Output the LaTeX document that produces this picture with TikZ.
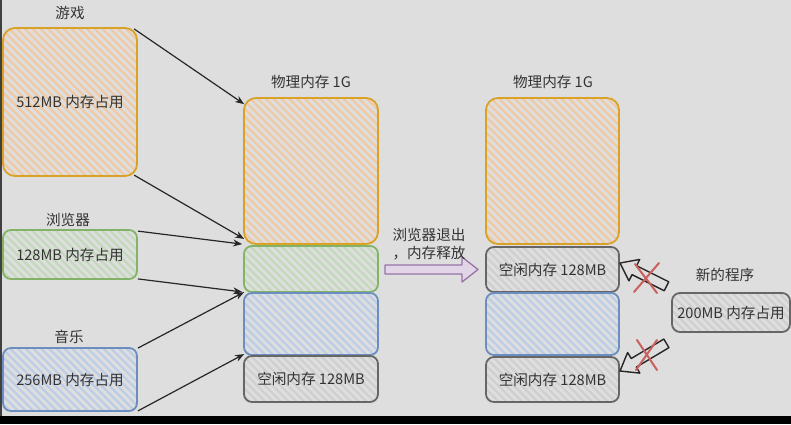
\documentclass[tikz,border=0pt]{standalone}
\usepackage{fontspec}
\setmainfont{Noto Sans CJK SC}
\usetikzlibrary{calc,arrows.meta,patterns.meta}

\definecolor{bg}{HTML}{DEDEDE}
\definecolor{ink}{HTML}{333333}
\definecolor{orgline}{HTML}{D9A227}
\definecolor{orghatch}{HTML}{F0C9A2}
\definecolor{grnline}{HTML}{82B366}
\definecolor{grnhatch}{HTML}{C2D9BA}
\definecolor{blueline}{HTML}{6C8EBF}
\definecolor{bluehatch}{HTML}{BCCDE8}
\definecolor{grayline}{HTML}{666666}
\definecolor{grayhatch}{HTML}{CFCFCF}
\definecolor{purpline}{HTML}{9673A6}
\definecolor{purpfill}{HTML}{E1D5E7}
\definecolor{redx}{HTML}{C9605C}

\tikzset{
  txt/.style={text=ink, font=\fontsize{14.6}{18}\selectfont},
  block/.style={txt, draw, line width=1.8pt, rounded corners=8pt,
    minimum width=134pt, inner sep=0pt},
  hatch/.style={pattern={Lines[angle=-45,distance=5.5pt,line width=2.2pt]},
    pattern color=#1},
  orangebox/.style={block, draw=orgline, hatch=orghatch, rounded corners=12pt},
  greenbox/.style={block, draw=grnline, hatch=grnhatch},
  bluebox/.style={block, draw=blueline, hatch=bluehatch},
  freebox/.style={block, draw=grayline, hatch=grayhatch},
  caption/.style={txt},
  link/.style={draw=black!85, line width=1.2pt, -{Stealth[length=9pt,width=7pt]}},
  hollow/.style={draw=black!85, line width=1.4pt, line join=round},
  cross/.style={draw=redx, line width=2pt, line cap=round},
}

\begin{document}
\begin{tikzpicture}[x=1pt, y=-1pt]
\useasboundingbox (0,0) rectangle (791,424);
\fill[bg] (0,0) rectangle (791,416);
\fill[black] (0,416) rectangle (791,424);
\fill[black!75] (0,0) rectangle (2,416);

% programs on the left
\node[orangebox, minimum height=148pt] (game) at (70,102) {512MB 内存占用};
\node[caption] (gameT) at (70,13) {游戏};
\node[greenbox, minimum height=49pt] (browser) at (70,254.5) {128MB 内存占用};
\node[caption] (browserT) at (68,220) {浏览器};
\node[bluebox, minimum height=63pt] (music) at (70,379.5) {256MB 内存占用};
\node[caption] (musicT) at (69,337) {音乐};

% physical memory before
\node[caption] (memA) at (311,82) {物理内存 1G};
\node[orangebox, minimum height=146pt] (m1) at (311,171) {};
\node[greenbox, minimum height=46pt] (m2) at (311,269) {};
\node[bluebox, minimum height=62pt] (m3) at (311,324) {};
\node[freebox, minimum height=46pt] (m4) at (311,379) {空闲内存 128MB};

% physical memory after
\node[caption] (memB) at (553,82) {物理内存 1G};
\node[orangebox, minimum width=133pt, minimum height=146pt] (r1) at (552.5,171) {};
\node[freebox, minimum width=133pt, minimum height=45pt] (r2) at (552.5,269.5) {空闲内存 128MB};
\node[bluebox, minimum width=133pt, minimum height=62pt] (r3) at (552.5,324) {};
\node[freebox, minimum width=133pt, minimum height=45pt] (r4) at (552.5,379.5) {空闲内存 128MB};

% new program
\node[caption] (newT) at (725,275) {新的程序};
\node[freebox, minimum width=118pt, minimum height=39pt] (newp) at (731,312.5) {200MB 内存占用};

% allocation links
\draw[link] ($(game.north east)+(-4,2)$) -- ($(m1.north west)+(1,7)$);
\draw[link] ($(game.south east)+(-4,-2)$) -- ($(m1.south west)+(1,-6)$);
\draw[link] ($(browser.north east)+(0,2)$) -- ($(m2.north west)+(-1,-1)$);
\draw[link] ($(browser.south east)+(0,-1)$) -- ($(m2.south west)+(-1,-1)$);
\draw[link] ($(music.north east)+(0,1)$) -- ($(m3.north west)+(1,0)$);
\draw[link] ($(music.south east)+(0,-1)$) -- ($(m4.north west)+(1,-1)$);

% release arrow
\coordinate (rel) at (385,269.5);
\draw[draw=purpline, fill=purpfill, line width=1.3pt, line join=round]
  (rel) ++(0,-4.5) -- ++(77,0) -- ++(0,-8) -- ++(16,12.5) -- ++(-16,12.5)
  -- ++(0,-8) -- ++(-77,0) -- cycle;
\node[txt, align=center] (relT) at (429,244) {浏览器退出\\，内存释放};

% failed placements
\begin{scope}[shift={(620,263)}, rotate=-26.6]
  \draw[hollow] (0,0) -- (16,12) -- (16,5) -- (52,5) -- (52,-5) -- (16,-5) -- (16,-12) -- cycle;
\end{scope}
\begin{scope}[shift={(620,371)}, rotate=30.8]
  \draw[hollow] (0,0) -- (16,12) -- (16,5) -- (54,5) -- (54,-5) -- (16,-5) -- (16,-12) -- cycle;
\end{scope}
\draw[cross] (634,292) -- (659,263);
\draw[cross] (635,264) -- (657,293);
\draw[cross] (636,370) -- (657,340);
\draw[cross] (637,340) -- (657,370);
\end{tikzpicture}
\end{document}
